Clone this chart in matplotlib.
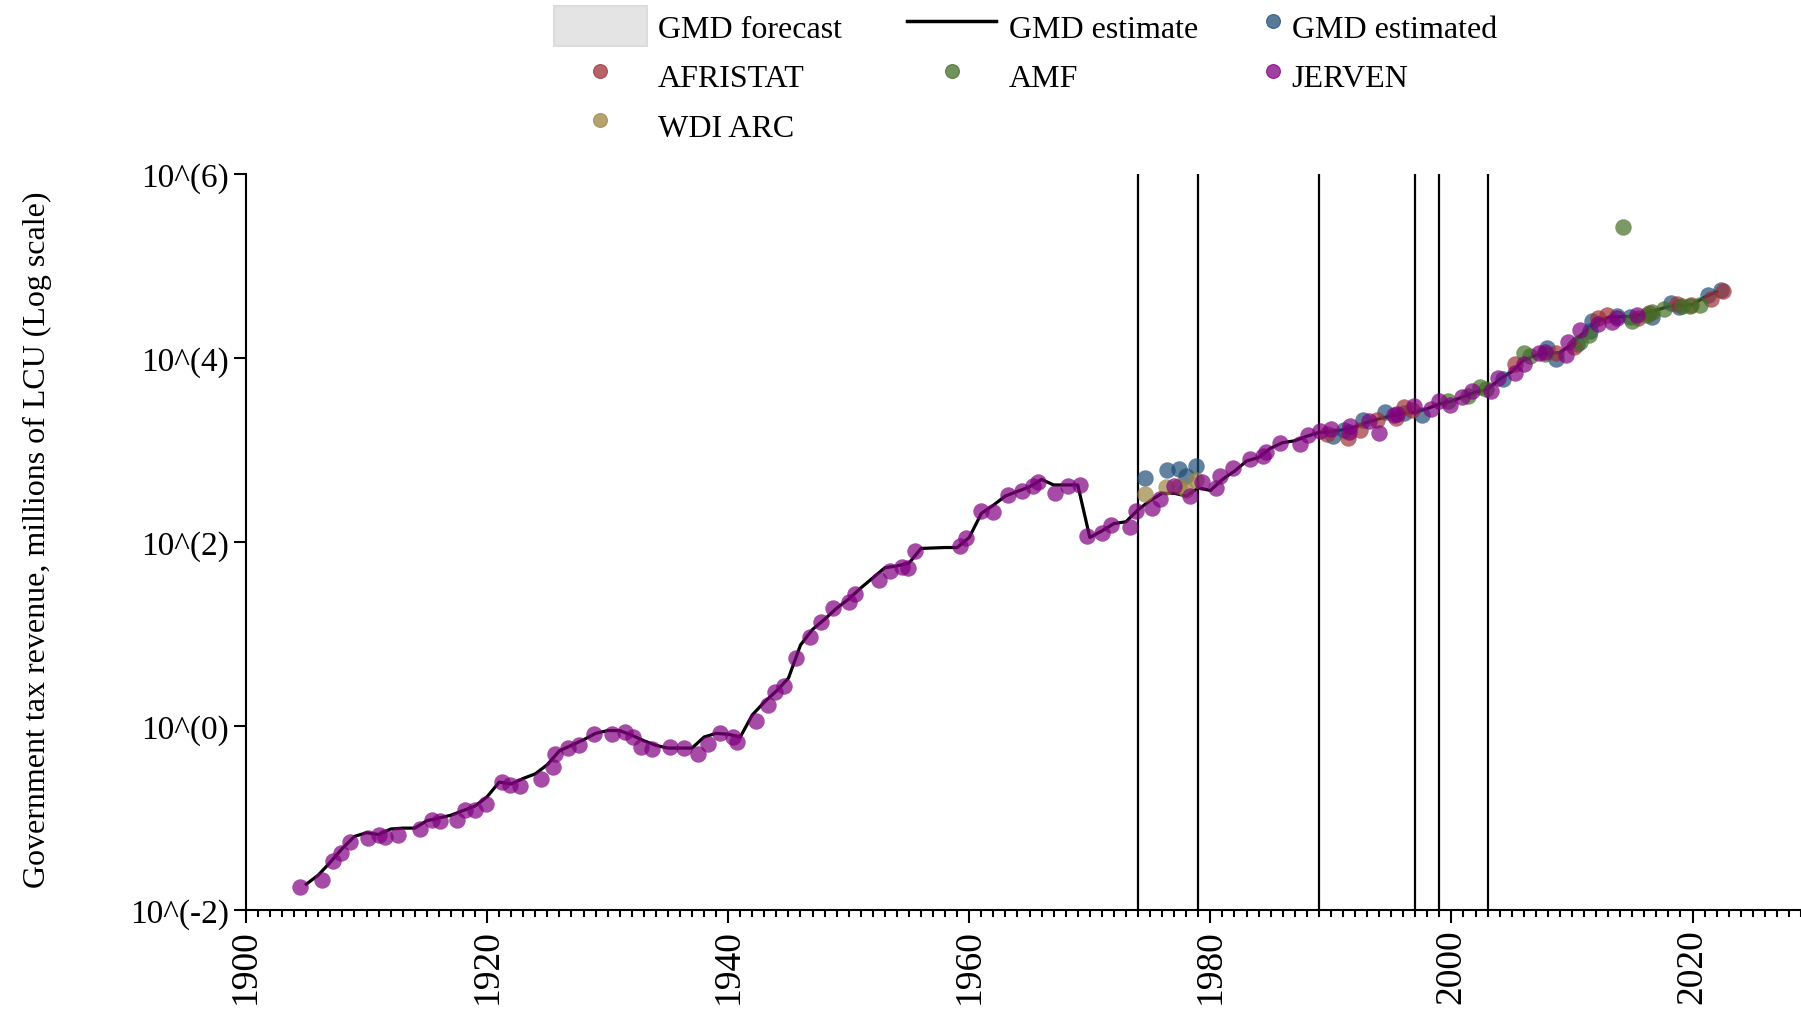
import numpy as np
import matplotlib
matplotlib.use("Agg")
import matplotlib.pyplot as plt
from matplotlib.patches import Patch
from matplotlib.lines import Line2D

plt.rcParams['font.family'] = ['Liberation Serif', 'DejaVu Serif']

# values as log10(millions of LCU)
line_years = list(range(1905, 2023))
line_log = [-1.72, -1.62, -1.48, -1.33, -1.20, -1.16, -1.18, -1.12, -1.11, -1.11,
            -1.03, -1.00, -0.97, -0.92, -0.87, -0.77, -0.61, -0.63, -0.57, -0.52,
            -0.42, -0.27, -0.21, -0.15, -0.08, -0.05, -0.05, -0.10, -0.16, -0.21,
            -0.24, -0.24, -0.24, -0.12, -0.08, -0.09, -0.12, 0.12, 0.26, 0.38,
            0.52, 0.88, 1.05, 1.16, 1.28, 1.38, 1.50, 1.61, 1.72, 1.74,
            1.77, 1.93, 1.935, 1.94, 1.94, 2.05, 2.31, 2.40, 2.50, 2.55,
            2.60, 2.68, 2.62, 2.62, 2.62, 2.05, 2.12, 2.20, 2.22, 2.35,
            2.45, 2.53, 2.53, 2.50, 2.59, 2.56, 2.68, 2.77, 2.88, 2.92,
            3.02, 3.08, 3.10, 3.15, 3.19, 3.20, 3.22, 3.25, 3.30, 3.34,
            3.37, 3.40, 3.41, 3.45, 3.50, 3.53, 3.58, 3.63, 3.66, 3.77,
            3.85, 3.98, 4.03, 4.05, 4.06, 4.15, 4.28, 4.40, 4.44, 4.45,
            4.45, 4.48, 4.52, 4.56, 4.57, 4.58, 4.66, 4.72]

jerven_years = [1904.5, 1906.3, 1907.2, 1907.9, 1908.6, 1910.1, 1911.0, 1911.5, 1912.6, 1914.4,
                1915.4, 1916.1, 1917.5, 1918.2, 1919.0, 1919.9, 1921.2, 1921.9, 1922.7, 1924.5,
                1925.5, 1925.6, 1926.7, 1927.6, 1928.9, 1930.4, 1931.4, 1932.1, 1932.8, 1933.7,
                1935.2, 1936.3, 1937.5, 1938.3, 1939.3, 1940.4, 1940.7, 1942.3, 1943.3, 1943.9,
                1944.6, 1945.6, 1946.8, 1947.7, 1948.7, 1950.0, 1950.5, 1952.5, 1953.4, 1954.4,
                1954.9, 1955.5, 1959.2, 1959.7, 1961.0, 1962.0, 1963.2, 1964.4, 1965.3, 1965.7,
                1967.1, 1968.2, 1969.2, 1969.8, 1971.0, 1971.8, 1973.3, 1973.8, 1975.2, 1975.8,
                1977.0, 1978.3, 1979.3, 1980.5, 1980.8, 1981.9, 1983.3, 1984.4, 1984.6, 1985.8,
                1987.4, 1988.1, 1989.1, 1990.0, 1991.5, 1991.6, 1993.2, 1994.0, 1995.2, 1995.5,
                1996.9, 1998.3, 1999.0, 1999.9, 2000.9, 2001.7, 2003.3, 2003.9, 2005.3, 2006.0,
                2007.3, 2007.8, 2009.5, 2009.7, 2010.7, 2012.2, 2013.3, 2013.7, 2015.4]
jerven_log = [-1.75, -1.67, -1.47, -1.38, -1.26, -1.22, -1.18, -1.21, -1.18, -1.12,
              -1.02, -1.03, -1.02, -0.91, -0.91, -0.85, -0.61, -0.64, -0.65, -0.58,
              -0.45, -0.30, -0.24, -0.21, -0.09, -0.09, -0.06, -0.12, -0.23, -0.25,
              -0.23, -0.24, -0.30, -0.20, -0.08, -0.12, -0.17, 0.05, 0.23, 0.37,
              0.44, 0.74, 0.97, 1.13, 1.28, 1.35, 1.44, 1.59, 1.69, 1.73,
              1.72, 1.90, 1.96, 2.04, 2.34, 2.33, 2.51, 2.55, 2.61, 2.65,
              2.53, 2.61, 2.62, 2.07, 2.10, 2.18, 2.16, 2.34, 2.37, 2.47,
              2.61, 2.50, 2.65, 2.59, 2.72, 2.80, 2.90, 2.94, 2.98, 3.08,
              3.06, 3.16, 3.21, 3.23, 3.20, 3.26, 3.31, 3.18, 3.38, 3.39,
              3.48, 3.45, 3.53, 3.49, 3.58, 3.64, 3.64, 3.78, 3.84, 3.94,
              4.05, 4.06, 4.03, 4.17, 4.30, 4.37, 4.39, 4.44, 4.47]

gmd_years = [1974.6, 1976.4, 1977.4, 1978.0, 1978.8, 1990.2, 1991.1, 1992.7, 1994.5, 1996.1,
             1997.6, 2004.3, 2007.9, 2008.7, 2010.4, 2011.5, 2011.7, 2013.7, 2014.8, 2016.6,
             2018.2, 2018.9, 2021.3, 2022.4]
gmd_log = [2.70, 2.78, 2.79, 2.72, 2.83, 3.15, 3.22, 3.33, 3.41, 3.40,
           3.38, 3.77, 4.11, 3.99, 4.15, 4.29, 4.40, 4.46, 4.45, 4.45,
           4.60, 4.55, 4.69, 4.74]

afristat_years = [1989.7, 1991.4, 1992.4, 1993.8, 1995.4, 1996.1, 1996.7, 2005.3, 2008.7, 2010.2,
                  2012.2, 2012.9, 2015.5, 2016.4, 2018.7, 2019.9, 2021.5, 2022.5]
afristat_log = [3.17, 3.13, 3.22, 3.33, 3.35, 3.47, 3.44, 3.93, 4.05, 4.12,
                4.44, 4.47, 4.43, 4.49, 4.59, 4.58, 4.64, 4.73]

amf_years = [1999.7, 2001.4, 2002.4, 2002.9, 2006.0, 2006.5, 2007.8, 2010.7, 2011.4, 2014.2,
             2015.0, 2016.2, 2016.6, 2017.6, 2019.1, 2019.8, 2020.6]
amf_log = [3.53, 3.59, 3.69, 3.66, 4.05, 4.02, 4.04, 4.17, 4.25, 5.42,
           4.40, 4.47, 4.50, 4.53, 4.56, 4.57, 4.58]

wdi_years = [1974.6, 1976.3, 1977.4, 1978.0, 1978.8]
wdi_log = [2.52, 2.60, 2.61, 2.56, 2.67]

crisis_years = [1974, 1979, 1989, 1997, 1999, 2003]

y_ticks = [1e-2, 1e0, 1e2, 1e4, 1e6]
y_ticklabels = ['10^(-2)', '10^(0)', '10^(2)', '10^(4)', '10^(6)']
x_ticks = [1900, 1920, 1940, 1960, 1980, 2000, 2020]

col_gmd = '#1f4d78'
col_afr = '#9e3035'
col_amf = '#426e25'
col_jer = '#800080'
col_wdi = '#9c8440'

fig = plt.figure(figsize=(18.01, 10.12), dpi=100)
ax = fig.add_axes([246 / 1801, 1 - 911 / 1012, 1 - 246 / 1801, (911 - 175) / 1012])

for yr in crisis_years:
    ax.axvline(yr, color='black', lw=1.6, zorder=1)

ax.plot(line_years, np.power(10.0, line_log), color='black', lw=2.3, zorder=2)

sz = 140
al = 0.7
ax.scatter(gmd_years, np.power(10.0, gmd_log), s=sz, color=col_gmd, alpha=al, lw=0, zorder=3)
ax.scatter(afristat_years, np.power(10.0, afristat_log), s=sz, color=col_afr, alpha=al, lw=0, zorder=3)
ax.scatter(amf_years, np.power(10.0, amf_log), s=sz, color=col_amf, alpha=al, lw=0, zorder=3)
ax.scatter(wdi_years, np.power(10.0, wdi_log), s=sz, color=col_wdi, alpha=al, lw=0, zorder=3)
ax.scatter(jerven_years, np.power(10.0, jerven_log), s=sz, color=col_jer, alpha=al, lw=0, zorder=4)

ax.set_yscale('log')
ax.set_ylim(1e-2, 1e6)
ax.set_xlim(1900, 2029)
ax.set_yticks(y_ticks)
ax.set_yticklabels(y_ticklabels)
ax.yaxis.set_minor_locator(matplotlib.ticker.NullLocator())
ax.set_xticks(x_ticks)
ax.set_xticklabels([str(x) for x in x_ticks], rotation=90)
ax.xaxis.set_minor_locator(matplotlib.ticker.MultipleLocator(1))
ax.tick_params(axis='x', which='major', labelsize=27, length=9, width=1.5, pad=4)
ax.tick_params(axis='x', which='minor', length=5, width=1.5)
ax.tick_params(axis='y', which='major', labelsize=24, length=9, width=1.5)
for s in ['top', 'right']:
    ax.spines[s].set_visible(False)
for s in ['left', 'bottom']:
    ax.spines[s].set_linewidth(1.5)

fig.text(37 / 1801, 1 - 540 / 1012, 'Government tax revenue, millions of LCU (Log scale)',
         rotation=90, fontsize=23, ha='center', va='center')

def dot(c):
    return Line2D([], [], ls='none', marker='o', markersize=10, color=c, alpha=0.75,
                  mec=c, mew=0.8)

leg_kw = dict(frameon=False, fontsize=23, labelspacing=0.3, borderpad=0,
              borderaxespad=0, loc='upper left')
leg1 = fig.legend([Patch(facecolor='#e4e4e4', edgecolor='#dcdcdc', lw=1.5), dot(col_afr), dot(col_wdi)],
                  ['GMD forecast', 'AFRISTAT', 'WDI ARC'], handlelength=2.9, handleheight=1.55,
                  handletextpad=0.35, bbox_to_anchor=(554 / 1801, 1 - 7 / 1012), **leg_kw)
leg2 = fig.legend([Line2D([], [], color='black', lw=2.5), dot(col_amf)],
                  ['GMD estimate', 'AMF'], handlelength=2.8, handleheight=1.55,
                  handletextpad=0.4, bbox_to_anchor=(907 / 1801, 1 - 7 / 1012), **leg_kw)
leg3 = fig.legend([dot(col_gmd), dot(col_jer)],
                  ['GMD estimated', 'JERVEN'], handlelength=0.6, handleheight=1.55,
                  handletextpad=0.3, bbox_to_anchor=(1263 / 1801, 1 - 7 / 1012), **leg_kw)

fig.savefig('out.png', dpi=100)
